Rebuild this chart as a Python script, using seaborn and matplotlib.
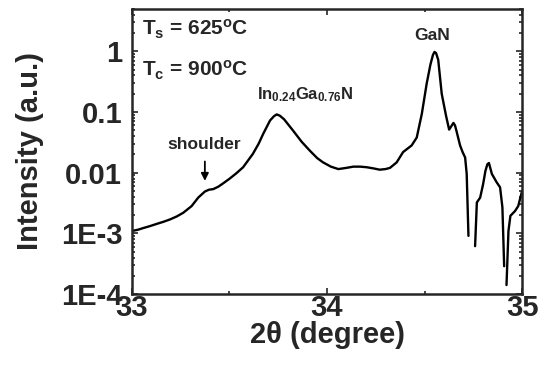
import numpy as np
import pandas as pd
import matplotlib
matplotlib.use("Agg")
import matplotlib.pyplot as plt
import seaborn as sns
from matplotlib.ticker import FixedLocator, FixedFormatter, LogLocator, NullFormatter

# ---- data (2-theta in degrees, log10 of intensity) ----
two_theta = [33.000, 33.030, 33.060, 33.092, 33.130, 33.160, 33.195, 33.230, 33.263, 33.306,
             33.340, 33.374, 33.395, 33.417, 33.443, 33.470, 33.500, 33.535, 33.570, 33.620,
             33.650, 33.673, 33.708, 33.728, 33.742, 33.758, 33.780, 33.827, 33.870, 33.913,
             33.950, 33.980, 34.020, 34.058, 34.100, 34.135, 34.170, 34.204, 34.240, 34.270,
             34.300, 34.323, 34.357, 34.390, 34.434, 34.460, 34.486, 34.511, 34.530, 34.543,
             34.551, 34.559, 34.570, 34.588, 34.610, 34.626, 34.640, 34.648, 34.656, 34.665,
             34.682, 34.695, 34.708, 34.716, 34.725,
             34.759, 34.768, 34.785, 34.800, 34.812, 34.822, 34.830, 34.845, 34.870, 34.887,
             34.899, 34.908,
             34.920, 34.930, 34.940, 34.964, 34.980, 35.000]
log_intensity = [-2.96, -2.94, -2.91, -2.88, -2.84, -2.81, -2.77, -2.72, -2.66, -2.55,
                 -2.41, -2.31, -2.28, -2.27, -2.23, -2.17, -2.10, -2.01, -1.91, -1.69,
                 -1.52, -1.36, -1.14, -1.07, -1.04, -1.06, -1.12, -1.31, -1.49, -1.64,
                 -1.76, -1.83, -1.90, -1.94, -1.92, -1.90, -1.90, -1.91, -1.93, -1.95,
                 -1.94, -1.92, -1.83, -1.66, -1.55, -1.42, -1.03, -0.53, -0.22, -0.06,
                 -0.01, -0.03, -0.14, -0.70, -1.06, -1.29, -1.22, -1.18, -1.22, -1.33,
                 -1.55, -1.66, -1.75, -2.02, -3.04,
                 -3.21, -2.49, -2.41, -2.19, -1.97, -1.86, -1.84, -2.02, -2.16, -2.24,
                 -2.57, -3.54,
                 -3.85, -2.96, -2.71, -2.63, -2.55, -2.30]
segment = [0] * 65 + [1] * 12 + [2] * 6

y_ticks = [1e-4, 1e-3, 1e-2, 1e-1, 1]
y_ticklabels = ["1E-4", "1E-3", "0.01", "0.1", "1"]
x_ticks = [33, 34, 35]
x_ticklabels = ["33", "34", "35"]

df = pd.DataFrame({"two_theta": two_theta,
                   "intensity": np.power(10.0, log_intensity),
                   "segment": segment})

sns.set_style("ticks")
plt.rcParams["font.family"] = ["Liberation Sans", "DejaVu Sans"]
plt.rcParams["font.weight"] = "bold"
plt.rcParams["mathtext.fontset"] = "custom"
plt.rcParams["mathtext.rm"] = "Liberation Sans:bold"
plt.rcParams["mathtext.bf"] = "Liberation Sans:bold"
plt.rcParams["mathtext.it"] = "Liberation Sans:bold"

fig = plt.figure(figsize=(5.45, 3.85), dpi=100)
ax = fig.add_axes([0.242, 0.236, 0.716, 0.741])

sns.lineplot(data=df, x="two_theta", y="intensity", units="segment", estimator=None,
             color="black", linewidth=1.7, ax=ax, legend=False, sort=False)

ax.set_yscale("log")
ax.set_xlim(33, 35)
ax.set_ylim(1e-4, 5)

ax.xaxis.set_major_locator(FixedLocator(x_ticks))
ax.xaxis.set_major_formatter(FixedFormatter(x_ticklabels))
ax.xaxis.set_minor_locator(FixedLocator([33.5, 34.5]))
ax.yaxis.set_major_locator(FixedLocator(y_ticks))
ax.yaxis.set_major_formatter(FixedFormatter(y_ticklabels))
ax.yaxis.set_minor_locator(LogLocator(base=10, subs=np.arange(2, 10)))
ax.yaxis.set_minor_formatter(NullFormatter())

ax.tick_params(which="both", direction="in", top=True, right=True, width=1.2)
ax.tick_params(which="major", length=4, labelsize=21)
ax.tick_params(which="minor", length=2)
ax.tick_params(axis="y", which="major", pad=7)
ax.tick_params(axis="x", which="major", pad=0)
for lab in ax.get_xticklabels() + ax.get_yticklabels():
    lab.set_fontweight("bold")
for sp in ax.spines.values():
    sp.set_linewidth(1.8)
    sp.set_visible(True)

ax.set_xlabel("2\u03b8 (degree)", fontsize=21, fontweight="bold", labelpad=-1)
ax.set_ylabel("Intensity (a.u.)", fontsize=21, fontweight="bold", labelpad=12)

ax.text(0.026, 0.928, r"T$_\mathrm{s}$ = 625$^\mathrm{o}$C", transform=ax.transAxes,
        fontsize=15, fontweight="bold", va="center", ha="left")
ax.text(0.026, 0.784, r"T$_\mathrm{c}$ = 900$^\mathrm{o}$C", transform=ax.transAxes,
        fontsize=15, fontweight="bold", va="center", ha="left")
ax.text(34.54, 1.84, "GaN", fontsize=12.5, fontweight="bold", ha="center", va="center")
ax.text(33.89, 0.19, r"In$_\mathrm{0.24}$Ga$_\mathrm{0.76}$N", fontsize=12,
        fontweight="bold", ha="center", va="center")
ax.text(33.37, 0.029, "shoulder", fontsize=12.5, fontweight="bold", ha="center", va="center")
ax.annotate("", xy=(33.374, 0.0066), xytext=(33.374, 0.017),
            arrowprops=dict(arrowstyle="-|>", color="black", lw=1.3, mutation_scale=11))

fig.savefig("out.png", dpi=100)
